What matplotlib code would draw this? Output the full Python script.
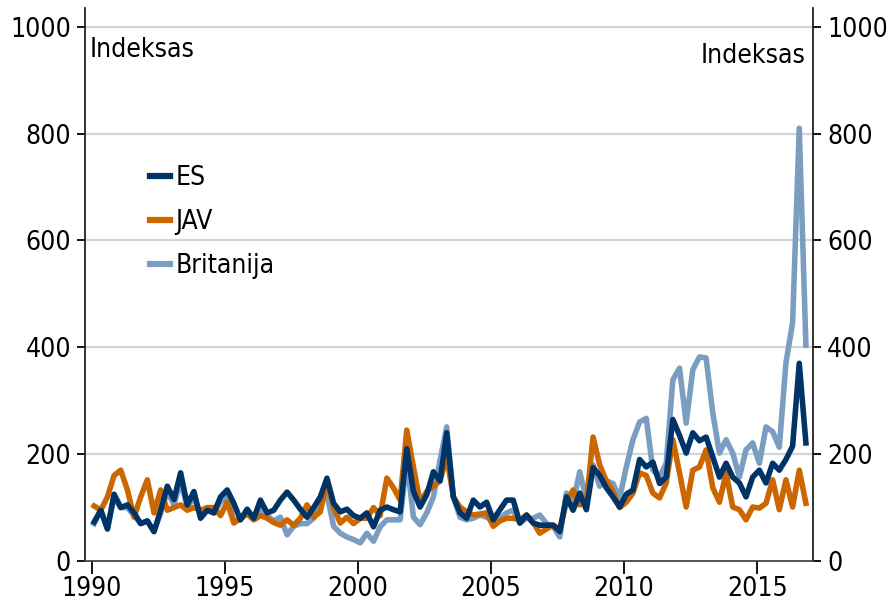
import numpy as np
import matplotlib
matplotlib.use("Agg")
import matplotlib.pyplot as plt
from matplotlib import font_manager as fm

# Quarterly observations, 1990 Q1 ... 2016 Q4 (mid-quarter positions)
start_year = 1990
n_q = 108

es = [73, 95, 60, 125,   100, 105, 90, 70,   75, 55, 95, 140,   115, 165, 105, 130,
      80, 95, 90, 120,   133, 108, 77, 97,   80, 114, 90, 95,   114, 129, 114, 97,
      82, 100, 120, 155,   108, 92, 97, 85,   80, 90, 64, 95,   101, 96, 92, 210,
      130, 101, 124, 167,   150, 240, 120, 90,   80, 114, 101, 110,   77, 96, 114, 114,
      71, 86, 71, 67,   67, 67, 55, 120,   95, 127, 96, 175,   160, 137, 120, 101,
      125, 133, 190, 176,   185, 145, 157, 265,   235, 202, 240, 225,   232, 195, 157, 183,
      157, 146, 120, 157,   170, 146, 183, 170,   190, 215, 370, 221]

jav = [103, 95, 120, 160,   170, 133, 82, 120,   152, 90, 133, 95,   100, 105, 95, 100,
       95, 100, 100, 85,   110, 71, 80, 88,   77, 85, 80, 72,   67, 77, 67, 80,
       105, 82, 92, 150,   100, 71, 82, 70,   80, 80, 100, 85,   155, 137, 114, 245,
       176, 110, 130, 140,   150, 195, 120, 101,   92, 86, 88, 90,   65, 75, 80, 80,
       77, 86, 72, 52,   60, 67, 60, 110,   133, 105, 110, 232,   180, 150, 130, 100,
       110, 127, 165, 160,   127, 118, 146, 227,   165, 101, 170, 176,   208, 137, 110, 165,
       101, 96, 77, 101,   99, 108, 152, 96,   152, 101, 170, 108]

uk = [70, 95, 60, 120,   100, 100, 85, 70,   75, 55, 90, 130,   105, 150, 100, 120,
      85, 95, 90, 110,   120, 75, 78, 90,   78, 100, 85, 75,   82, 49, 65, 70,
      70, 80, 108, 125,   65, 52, 45, 40,   34, 52, 37, 64,   77, 77, 77, 189,
      82, 68, 90, 120,   189, 251, 120, 82,   77, 80, 86, 82,   75, 80, 90, 95,
      71, 80, 80, 86,   70, 65, 45, 127,   110, 167, 114, 180,   140, 150, 145, 118,
      176, 227, 260, 267,   170, 157, 183, 339,   361, 258, 358, 382,   380, 277, 202, 227,
      202, 157, 208, 221,   183, 251, 242, 213,   371, 446, 810, 404]

labels = ["ES", "JAV", "Britanija"]
colors = {"ES": "#003366", "JAV": "#CC6600", "Britanija": "#7B9DC1"}

yticks = [0, 200, 400, 600, 800, 1000]
xticks = [1990, 1995, 2000, 2005, 2010, 2015]
unit_label = "Indeksas"

t = start_year + np.arange(n_q) / 4.0 + 1.0 / 12.0

plt.rcParams["font.family"] = ["DejaVu Sans"]
plt.rcParams["font.stretch"] = "condensed"
fs = 19
fp = fm.FontProperties(family="DejaVu Sans", stretch="condensed", size=fs)

fig = plt.figure(figsize=(8.87, 6.06), dpi=100)
ax = fig.add_axes([85 / 887, 45 / 606, (813 - 85) / 887, (561 - 8) / 606])

for y in yticks[1:]:
    ax.axhline(y, color="#CBD8E0", lw=1.6, zorder=1)

lw = 4.0
ax.plot(t, uk, color=colors["Britanija"], lw=lw, zorder=2, label="Britanija")
ax.plot(t, jav, color=colors["JAV"], lw=lw, zorder=3, label="JAV")
ax.plot(t, es, color=colors["ES"], lw=lw, zorder=4, label="ES")

ax.set_xlim(1989.74, 2017.1)
ax.set_ylim(0, 1035)
ax.set_yticks(yticks)
ax.set_xticks(xticks)
ax.tick_params(axis="y", direction="out", length=6, width=1.3,
               left=True, right=True, labelleft=True, labelright=True, pad=4)
ax.tick_params(axis="x", direction="out", length=9, width=1.3, pad=2)
for lab in ax.get_xticklabels() + ax.get_yticklabels():
    lab.set_fontproperties(fp)
for tk in ax.yaxis.get_major_ticks():
    tk.label2.set_fontproperties(fp)

ax.spines["top"].set_visible(False)
ax.spines["left"].set_color("#222222")
ax.spines["right"].set_color("#222222")
ax.spines["bottom"].set_color("#444444")
for s in ["left", "right", "bottom"]:
    ax.spines[s].set_linewidth(1.3)

ax.text(0.007, 0.947, unit_label, transform=ax.transAxes, fontproperties=fp,
        ha="left", va="top")
ax.text(0.99, 0.937, unit_label, transform=ax.transAxes, fontproperties=fp,
        ha="right", va="top")

handles, labs = ax.get_legend_handles_labels()
order = [labs.index(l) for l in labels]
leg = ax.legend([handles[i] for i in order], [labs[i] for i in order],
                loc="upper left", bbox_to_anchor=(0.075, 0.735), frameon=False,
                prop=fp, handlelength=0.75, handletextpad=0.2,
                labelspacing=0.68, borderaxespad=0)
for h in leg.get_lines():
    h.set_linewidth(4.5)

fig.savefig("out.png", dpi=100)
